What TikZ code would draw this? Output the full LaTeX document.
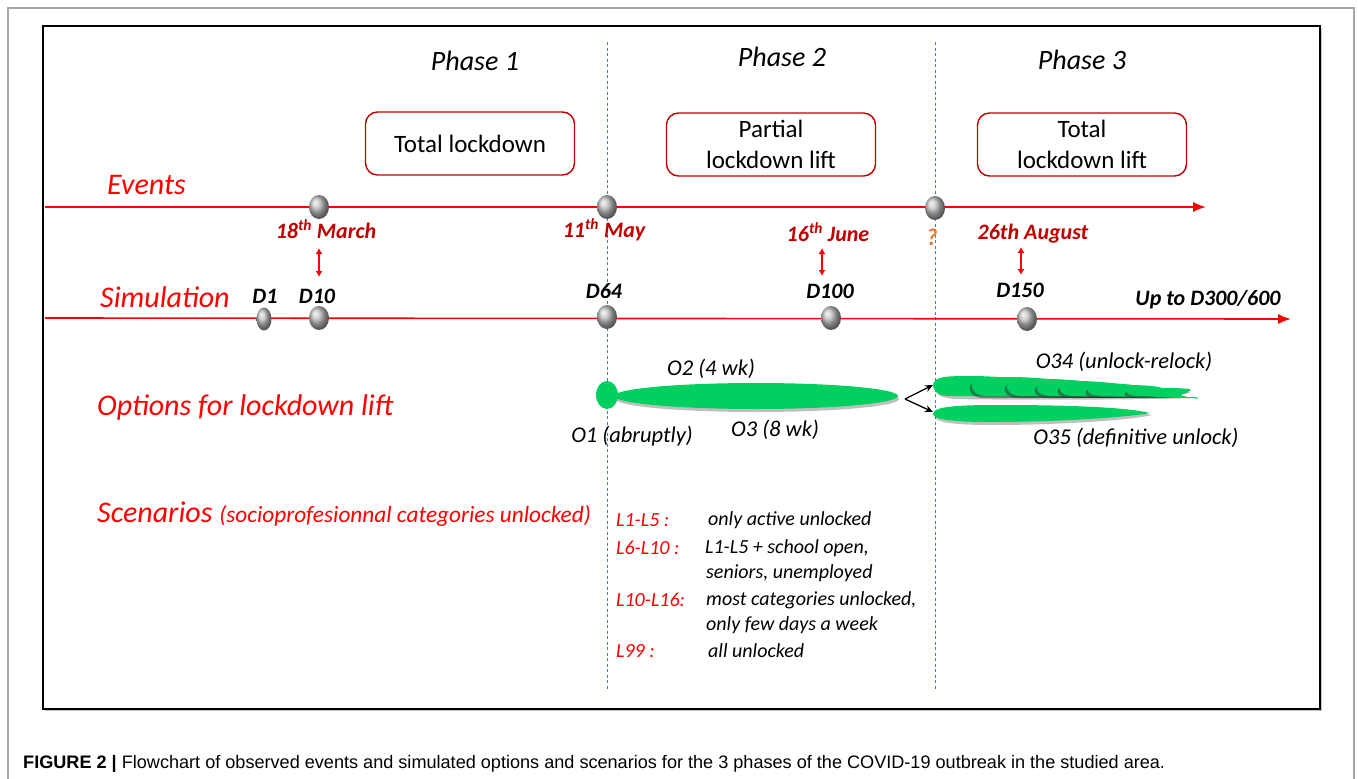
\documentclass[tikz,border=0pt]{standalone}
\usepackage{fontspec}
\setmainfont{Carlito}
\newfontfamily\capfont{Liberation Sans}
\usetikzlibrary{shapes.geometric,arrows.meta}
\definecolor{evred}{RGB}{255,0,0}
\definecolor{darkred}{RGB}{192,0,0}
\definecolor{boxred}{RGB}{192,0,0}
\definecolor{dashblue}{RGB}{60,120,220}
\definecolor{optgreen}{RGB}{0,208,96}
\definecolor{qorange}{RGB}{237,125,49}
\tikzset{
  redlbl/.style={text=evred,font=\fontsize{30}{34}\selectfont\itshape,inner sep=0},
  phasest/.style={font=\fontsize{28}{32}\selectfont\itshape,inner sep=0},
  boxst/.style={draw=boxred,rounded corners=12pt,line width=1.4pt,minimum width=209pt,minimum height=63pt,align=center,font=\fontsize{25}{31}\selectfont,inner sep=0},
  datest/.style={text=darkred,font=\fontsize{22}{26}\selectfont\bfseries\itshape,inner sep=0},
  dlbl/.style={font=\fontsize{22}{26}\selectfont\bfseries\itshape,inner sep=0},
  olbl/.style={font=\fontsize{22.5}{26}\selectfont\itshape,inner sep=0},
  scred/.style={text=evred,font=\fontsize{20}{23}\selectfont\itshape,anchor=west,inner sep=0},
  scblk/.style={font=\fontsize{20}{23}\selectfont\itshape,anchor=west,inner sep=0},
  marker/.style={ellipse,minimum width=20pt,minimum height=24pt,inner sep=0,shade,ball color=gray!50},
  tline/.style={draw=evred,line width=1.6pt,-{Latex[length=13pt,width=10pt]}},
  dbl/.style={draw=evred,line width=1.4pt,{Latex[length=6pt,width=7pt]}-{Latex[length=6pt,width=7pt]}},
  vdash/.style={draw=dashblue,line width=1pt,dash pattern=on 3pt off 2.5pt},
  grn/.style={fill=optgreen,draw=none},
  shd/.style={fill=black,opacity=0.25,draw=none},
  sshd/.style={fill=black!80,opacity=0.5,draw=none},
}
\begin{document}
\begin{tikzpicture}[x=1pt,y=-1pt]
\useasboundingbox (0,0) rectangle (1358,779);
% outer frame
\draw[gray!70,line width=1.2pt] (8,779) -- (8,8) -- (1354,8) -- (1354,779);
% inner frame
\draw[gray!45,line width=1.2pt] (45,710.5) -- (1321.5,710.5) -- (1321.5,28);
\draw[black,line width=1.8pt] (43,26) rectangle (1320,709);
% dashed phase separators
\coordinate (s1t) at (607,42); \coordinate (s1b) at (607,690);
\coordinate (s2t) at (935,42); \coordinate (s2b) at (935,690);
\draw[vdash] (s1t) -- (s1b);
\draw[vdash] (s2t) -- (s2b);
% phases
\node[phasest] (ph1) at (475,61) {Phase 1};
\node[phasest] (ph2) at (782,57) {Phase 2};
\node[phasest] (ph3) at (1082,60) {Phase 3};
% boxes
\node[boxst] (b1) at (470,143.5) {Total lockdown};
\node[boxst] (b2) at (771,144.5) {Partial\\lockdown lift};
\node[boxst] (b3) at (1082,144.5) {Total\\lockdown lift};
% events line
\node[redlbl,anchor=west] (ev) at (107,185) {Events};
\coordinate (evs) at (45,207); \coordinate (eve) at (1206,207);
\draw[tline] (evs) -- (eve);
\node[marker] (m1) at (319,207) {};
\node[marker] (m2) at (607,207) {};
\node[marker] (m3) at (935,208) {};
% dates
\node[datest] (d1) at (326,229) {18\textsuperscript{th} March};
\node[datest] (d2) at (604,230) {11\textsuperscript{th} May};
\node[datest] (d3) at (828,232) {16\textsuperscript{th} June};
\node[text=qorange,font=\fontsize{24}{28}\selectfont\bfseries\itshape,inner sep=0] (q) at (932,237) {?};
\node[datest] (d4) at (1033,234) {26th August};
% double arrows
\coordinate (a1t) at (319,248); \coordinate (a1b) at (319,277);
\coordinate (a2t) at (822,248); \coordinate (a2b) at (822,276);
\coordinate (a3t) at (1021,247); \coordinate (a3b) at (1021,275);
\draw[dbl] (a1t) -- (a1b);
\draw[dbl] (a2t) -- (a2b);
\draw[dbl] (a3t) -- (a3b);
% simulation line
\node[redlbl,anchor=west] (sim) at (100,297) {Simulation};
\coordinate (sms) at (45,318); \coordinate (sme) at (1291,319);
\draw[tline] (sms) -- (sme);
\node[marker,minimum width=15pt,minimum height=23pt] (n1) at (264,319) {};
\node[marker] (n2) at (319,318) {};
\node[marker] (n3) at (607,317) {};
\node[marker] (n4) at (831,318) {};
\node[marker] (n5) at (1027,319) {};
\node[dlbl] (l1) at (265,296) {D1};
\node[dlbl] (l2) at (317,296) {D10};
\node[dlbl] (l3) at (604,291) {D64};
\node[dlbl] (l4) at (830,291) {D100};
\node[dlbl] (l5) at (1020,290) {D150};
\node[dlbl] (l6) at (1208,300) {Up to D300/600};
% options
\node[redlbl,anchor=west] (opt) at (97,407) {Options for lockdown lift};
\fill[shd] (757,399) ellipse [x radius=142, y radius=13];
\fill[grn] (756,396) ellipse [x radius=142, y radius=13];
\fill[grn] (607,395) ellipse [x radius=11, y radius=14];
\node[olbl] (o2) at (711,369) {O2 (4 wk)};
\node[olbl] (o1) at (632,436) {O1 (abruptly)};
\node[olbl] (o3) at (775,430) {O3 (8 wk)};
\coordinate (fork) at (905,399);
\coordinate (f1) at (933,385);
\coordinate (f2) at (933,412);
\draw[line width=1.3pt,-{Stealth[length=8pt,width=7pt]}] (fork) -- (f1);
\draw[line width=1.3pt,-{Stealth[length=8pt,width=7pt]}] (fork) -- (f2);
% O34 layered shape
\fill[shd] (936,390) .. controls (936,378) and (950,379) .. (975,379) .. controls (1040,380) and (1150,395) .. (1195,398) .. controls (1150,400) and (990,400) .. (955,399) .. controls (940,398) and (936,394) .. (936,390) -- cycle;
\foreach \x/\t [count=\i] in {933/376,972/377,1007/379,1037/381,1060/383,1088/385,1127/388}{
  \pgfmathsetmacro{\mid}{(\t+395)/2}
  \ifnum\i>1
  \fill[sshd] (\x-2.5,\mid+2.5) .. controls (\x-2.5,\t+2.5) and (\x+12,\t+2.5) .. (\x+37,\t+2.5) .. controls (\x+100,\t+3) and (1150,396) .. (1190,397.5) .. controls (1150,398) and (\x+30,398) .. (\x+12,398) .. controls (\x,398) and (\x-2.5,\mid+5) .. (\x-2.5,\mid+2.5) -- cycle;
  \fi
  \fill[grn] (\x,\mid) .. controls (\x,\t) and (\x+15,\t) .. (\x+40,\t) .. controls (\x+100,\t+0.5) and (1150,395) .. (1198,398) .. controls (1150,398) and (\x+30,396) .. (\x+15,396) .. controls (\x+3,396) and (\x,\mid+3) .. (\x,\mid) -- cycle;
}
% O35
\fill[shd] (935,417) .. controls (935,409) and (962,408) .. (1002,408) .. controls (1082,408) and (1132,411) .. (1152,415) .. controls (1132,420) and (1062,425) .. (992,425) .. controls (952,425) and (935,422) .. (935,417) -- cycle;
\fill[grn] (933,414) .. controls (933,406) and (960,405) .. (1000,405) .. controls (1080,405) and (1130,408) .. (1150,413) .. controls (1130,417) and (1060,422) .. (990,422) .. controls (950,422) and (933,419) .. (933,414) -- cycle;
\node[olbl] (o34) at (1124,362) {O34 (unlock-relock)};
\node[olbl] (o35) at (1136,438) {O35 (definitive unlock)};
% scenarios
\node[redlbl,anchor=west] (scen) at (97,514) {Scenarios \fontsize{23.3}{26}\selectfont(socioprofesionnal categories unlocked)};
\node[scred] (s1) at (616,520) {L1-L5 :};
\node[scred] (s2) at (616,548) {L6-L10 :};
\node[scred] (s3) at (616,600) {L10-L16:};
\node[scred] (s4) at (616,651) {L99 :};
\node[scblk] (t1) at (708,520) {only active unlocked};
\node[scblk] (t2) at (705,548) {L1-L5 + school open,};
\node[scblk] (t2b) at (706,573) {seniors, unemployed};
\node[scblk] (t3) at (706,600) {most categories unlocked,};
\node[scblk] (t3b) at (706,625) {only few days a week};
\node[scblk] (t4) at (708,651) {all unlocked};
% caption
\node[anchor=west,inner sep=0,font=\capfont\fontsize{18.1}{21}\selectfont] (cap) at (23,764) {\textbf{FIGURE 2 |} Flowchart of observed events and simulated options and scenarios for the 3 phases of the COVID-19 outbreak in the studied area.};
\end{tikzpicture}
\end{document}
